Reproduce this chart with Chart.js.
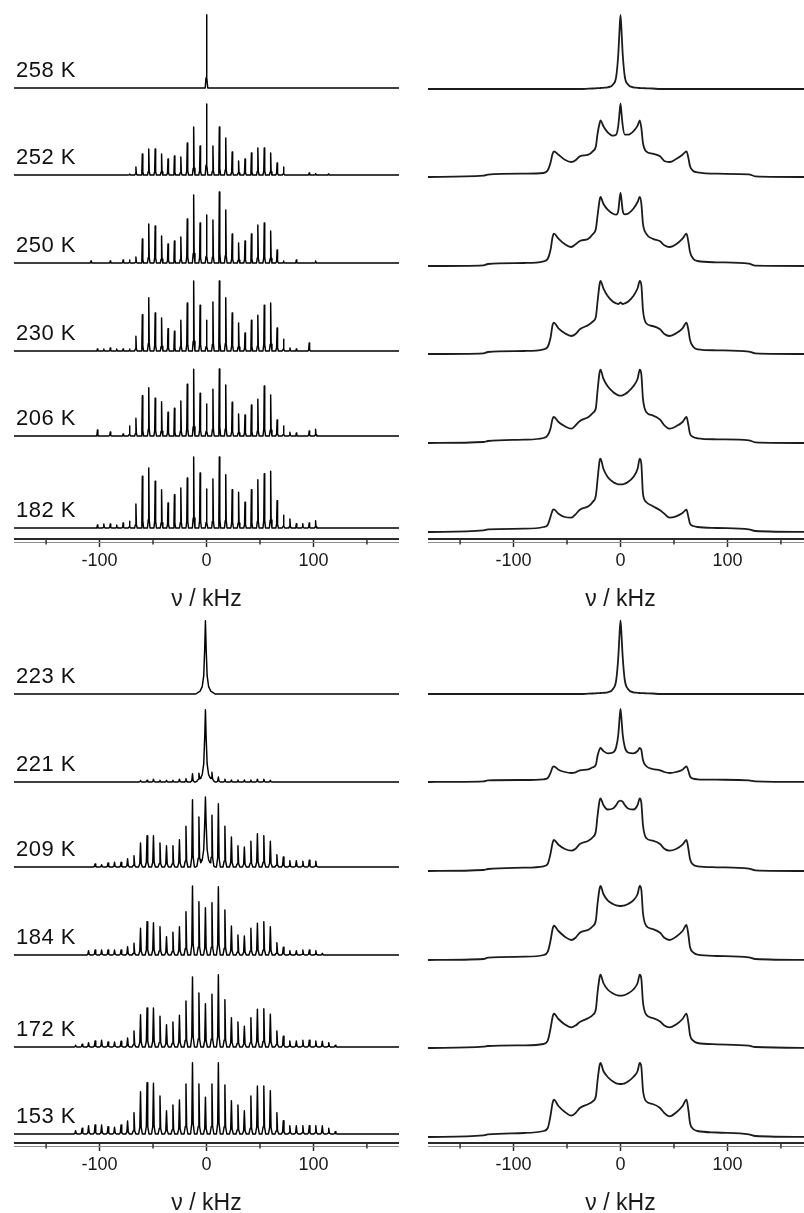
<!DOCTYPE html>
<html>
<head>
<meta charset="utf-8">
<script src="https://cdn.jsdelivr.net/npm/chart.js@4.4.1/dist/chart.umd.min.js"></script>
<style>
  html, body { margin: 0; padding: 0; background: #fff; overflow: hidden; width: 804px; height: 1213px; }
  canvas { position: absolute; }
</style>
</head>
<body>
<canvas id="topLeft"></canvas>
<canvas id="topRight"></canvas>
<canvas id="bottomLeft"></canvas>
<canvas id="bottomRight"></canvas>
<script>
// temperatures, top to bottom
const tempsTop = ['258 K', '252 K', '250 K', '230 K', '206 K', '182 K'];
const tempsBottom = ['223 K', '221 K', '209 K', '184 K', '172 K', '153 K'];

// sideband positions (kHz), orders -20..20
const sidebandsTop = [-120, -114, -108, -102, -96, -90, -84, -78, -72, -66, -60, -54, -48, -42, -36, -30, -24, -18, -12, -6,
  0, 6, 12, 18, 24, 30, 36, 42, 48, 54, 60, 66, 72, 78, 84, 90, 96, 102, 108, 114, 120];
const sidebandsBottom = [-122.4, -116.3, -110.3, -104.2, -98.1, -92.1, -86.0, -79.9, -73.8, -67.8, -61.7, -55.6, -49.6, -43.5, -37.4, -31.4, -25.3, -19.2, -13.1, -7.1,
  -1.0, 5.1, 11.1, 17.2, 23.3, 29.4, 35.4, 41.5, 47.6, 53.6, 59.7, 65.8, 71.8, 77.9, 84.0, 90.1, 96.1, 102.2, 108.3, 114.3, 120.4];

// sideband heights (left column)
const mas258 = [0,0,0,0,0,0,0,0,0,0,0,0,0,0,0,0,0,0,0,0, 73.3, 0,0,0,0,0,0,0,0,0,0,0,0,0,0,0,0,0,0,0,0];
const mas252 = [0,0,0,0,0,0,0,0, 1,8,21,26,26,21,16,19,18,32,48,29,71,29,48,37,23,14,16,22,27,27,22,12,8, 0,0,0,2,1.5,0,1,0];
const mas250 = [0,0,2,0,0,2,0,3, 3,6,24,39,37,27,19,22,26,44,68,40,48,43,71,53,29,20,22,29,38,40,32,13,2, 0,3,0,0,2,0,0,0];
const mas230 = [0,0,0,2,2,3,2,2, 2,14.7,36.3,53.3,38,33,22.3,19.7,30.7,48,70,45.7,30.7,49,70,53.3,38,28,18,30.7,35.7,45.7,48,23,11.7, 3,2,0,8,0,0,0,0];
const mas206 = [0,0,0,6,0,4,0,2, 10,17.7,40.3,48.3,37.7,34.3,23.7,27.7,35,51.7,66.7,42.7,32,46.7,67,51,33.7,22,21,31,36.7,50,41,16,10, 3.7,3,0,5,6.7,0,0,0];
const mas182 = [0,0,0,3,4,4,3,5, 6.7,24,51.7,60,46.7,38.3,25,33.3,40,50,71,55,39,49,71,53.3,38.3,35.7,25.7,38.3,48.3,54.3,56.7,27.3,12.7, 9,4.3,4.3,5,7.3,0,0,0];

const mas223 = [0,0,0,0,0,0,0,0,0,0,0,0,0,0,0,0,0,0,0,0, 73.3, 0,0,0,0,0,0,0,0,0,0,0,0,0,0,0,0,0,0,0,0];
const mas221 = [0,0,0,0,0,0,0,0,0,0, 1.5,1.7,2.7,1.7,1.7,1.7,2.7,3.3,8.3,6.7, 72.3, 7.7,5,2.7,2,2,2,2,2.7,2.7,1.7, 0,0,0,0,0,0,0,0,0,0];
const mas209 = [0,0,0,3,2.3,4,4.7,4.7,8.3,11.3,24,31.3,31.3,24,21.3,21.3,27.3,40.7,67.3,48,70,49.7,63.3,40.7,30,21.3,20,25.7,33.3,31.3,25.7,12.3,10,6.3,6.3,5.7,6.7,5.7,0,0,0];
const mas184 = [0,0,4.3,5,5,5,5,5,8.3,11.7,26.7,33.3,32.3,28.3,18.3,22.7,28.3,43.3,69,53.3,47.3,52.3,68.3,45,29,20,19,26.7,31.7,33.3,28.3,12.3,7.7,4.3,4.3,5,5,4.3,1.7,0,0];
const mas172 = [1.7,2.7,4.3,6,6.7,5,5,5.7,9,16,32.3,39,39,30.7,22.3,25,31.7,46,70,54,43.3,52.7,72.3,47.3,29.3,25,20.7,29.3,37.7,38.3,32.7,16,10.7,6,6,6.7,6.7,6,5.7,4.3,1.7];
const mas153 = [3.3,5.7,8.3,9,9,7.3,6.7,9,13,21.3,42.3,51.3,50.7,38,23.3,29,34,50,71.3,50,36.7,50,71.3,49,33.3,29,23.3,38,48,48,43.3,21.3,13.3,8.3,8.3,8.3,8.3,8.3,8.3,5.7,2.3];

// static line shapes (right column), sampled at powderX
const powderX = [-180, -128, -124, -90, -72, -68, -65.5, -63.5, -62.3, -58, -52, -46, -42, -38, -30, -26, -23, -21.5, -19.5, -18.7,
  -16, -12, -7, -4, -2, -1, 0, 1, 2, 4, 7, 12, 16,
  18, 19.5, 21, 24, 30, 37, 41, 46, 52, 58, 61.7, 63.5, 65, 68, 72, 90, 120, 126, 180];

const static258 = [0,0,0,0,0,0,0,0,0,0,0,0,0,0,0.3,0.5,0.7,0.8,0.9,1, 1.2,1.7,4.5,12.5,36,57,74,57,36,12.5,4.5,1.7,1.2, 1,0.9,0.8,0.7,0.5,0,0,0,0,0,0,0,0,0,0,0,0,0,0];
const static252 = [0,1.3,2.3,3.3,4,6.7,14,23.3,25.7,22.3,17.3,15,16.7,20.7,22.3,25.7,30.7,43,54,56.7, 50.7,44.7,41.3,42.3,52,63,73.3,63,52,42.3,42.3,45.7,51.3, 56.7,49,34,25.7,23.3,20.7,16,15,18,22.3,25.7,19,10.7,6,4.7,3.3,2.7,0.7,0];
const static250 = [0,0.7,2,3,4.7,7.3,15.7,29,32.3,27.3,21.7,19,21.7,25,27.3,31.7,37.3,50,66,69, 62.3,56.3,52.3,51.3,55.7,65.7,73,65.7,55.7,51.7,52.3,57.3,64, 69,62.3,42.3,32.3,27.3,24.7,20.7,19,21.7,27.3,32.3,24,14,7.3,5,3.7,2.3,0.3,0];
const static230 = [0,0.7,2,3,4.7,7.3,15.7,29,31.3,25.7,20.7,18,20,24.7,29,32.3,37.3,52,70,73, 65.7,58,52.3,50.7,50,50.7,51.7,50.7,50,50.7,52.3,58,65.7, 73,69,44,30.7,28,24.7,20,18,20.7,25.7,31.3,24,14,7.3,4.7,3.7,2.3,0.7,0];
const static206 = [0,1,2,3.3,5,7.7,14.3,24.3,26,21,16.7,14.3,17.7,22,26,30,35.3,52,71,73.3, 64.3,56.7,51,48.7,47.7,47.3,47.3,47.3,47.7,48.7,51,56.7,64.3, 73.3,68.7,44.3,31,27.7,23.3,17.7,14.3,16.7,21,26,17.7,9.3,6,4.7,3.7,2.7,0.7,0];
const static182 = [0,1.7,2.7,3.3,5,7.3,15,21.7,22.7,18.3,15,14.3,17.7,22.3,25.7,30,36.7,52,71.7,73.3, 63.3,55,50,48.3,47.7,47.7,47.7,47.7,47.7,48.3,50,55,63.3, 73.3,68,38.3,30,26,21.7,18.3,14.3,15.7,19,22.3,15,8.3,6,5,4,2.7,1,0];

const static223 = [0,0,0,0,0,0,0,0,0,0,0,0,0,0,0.3,0.5,0.7,0.8,0.9,1, 1.2,1.7,5,14,38,58,73.7,58,38,14,5,1.7,1.2, 1,0.9,0.8,0.7,0.5,0,0,0,0,0,0,0,0,0,0,0,0,0,0];
const static221 = [0,0.7,1.7,2,2.7,4,9,14.7,15.7,12.3,10,9,9.7,11.7,12.7,14.7,17.3,26,33,34, 31,28.7,29.5,35,48,62,73,62,48,35,29.5,28.7,31, 34,32,22,16,13,11.7,10,9,10,12.3,15.7,11,5.7,3.3,2.7,2.3,1.7,0.7,0];
const static209 = [0,1,2,3.3,4.7,7.3,17,28,31,26.3,22,20.3,22.3,27,30.3,33.7,40,55,70.7,72.7, 66,61.5,62.5,66,69.3,70,70.3,70,69.3,66,62.5,61.5,66, 72.7,68,46,33,30.3,27,22.3,20.3,22,26.3,31,22,12,6.3,4.7,3.7,2.3,0.7,0];
const static184 = [0,1,2.3,3.3,5,8.3,19,31,34.3,29,23.3,20,22.3,27.3,30.3,33.7,40,56,71.7,74, 66,59.7,56,54.7,54.3,54,54,54,54.3,54.7,56,59.7,66, 74,70,47,34.3,31,27.3,22.3,20,23.3,29,35,25,13,7.7,5.3,4,2.7,1,0];
const static172 = [0,1.3,2,2.7,4,7.5,19,31,34.3,29,23.5,20.7,22.5,26,30,33,39,55,71,73.3, 65,58.5,54.5,53,52.5,52.3,52.3,52.3,52.5,53,54.5,58.5,65, 73.3,69,46,33.5,30,26.5,22.5,20.7,23.5,29,34.3,25,13,7.3,5,3.7,2.3,1,0];
const static153 = [0,1.7,2.7,4,6,9,21,34,37.3,31,25,21.3,24,29,33,35.7,41,56,72,74, 66,60,55.5,53.7,53.2,53,53,53,53.2,53.7,55.5,60,66, 74,70,47,35.7,33,29,24,20.7,24.5,31,37.3,27,14,8,6,4.5,2.7,1,0];

const majorTicks = [-150, -100, -50, 0, 50, 100, 150];

// ---- layout (page pixels) ----
const AXIS_TOP = 539, AXIS_BOTTOM = 1143;
const baseTL = [88, 175, 263, 351, 436, 528];
const baseTR = [89, 177, 266, 354, 443, 532];
const baseBL = [694, 782, 867, 955, 1047, 1134];
const baseBR = [694, 782, 871, 960, 1048, 1137];

// peak shapes for the spinning sidebands: offsets in kHz, fraction of height
const narrowTop = { dx: [-1.2, -0.45, 0, 0.45, 1.2], f: [0, 0.14, 1, 0.14, 0] };
const narrowBottom = { dx: [-1.8, -0.65, 0, 0.65, 1.8], f: [0, 0.15, 1, 0.15, 0] };
const broadCentre = { dx: [-9, -5, -3, -1.6, -0.6, 0, 0.6, 1.6, 3, 5, 9], f: [0, 0.04, 0.1, 0.25, 0.65, 1, 0.65, 0.25, 0.1, 0.04, 0] };

function shapeAt(s, d) {
  if (d <= s.dx[0] || d >= s.dx[s.dx.length - 1]) return 0;
  for (let j = 1; j < s.dx.length; j++) {
    if (d <= s.dx[j]) {
      const t = (d - s.dx[j - 1]) / (s.dx[j] - s.dx[j - 1]);
      return s.f[j - 1] + t * (s.f[j] - s.f[j - 1]);
    }
  }
  return 0;
}

// polyline through the sideband peaks
function spikeTrace(pos, heights, shape, centre) {
  const peaks = [];
  pos.forEach((p, i) => {
    if (heights[i] > 0) peaks.push({ p, h: heights[i], s: (i === 20 && centre) ? centre : shape });
  });
  const xs = new Set([-180, 180]);
  peaks.forEach(k => k.s.dx.forEach(d => xs.add(+(k.p + d).toFixed(3))));
  return [...xs].sort((a, b) => a - b).map(x => ({
    x, y: peaks.reduce((sum, k) => sum + k.h * shapeAt(k.s, x - k.p), 0)
  }));
}

const tempLabels = {
  id: 'tempLabels',
  afterDatasetsDraw(chart, args, opts) {
    if (!opts.labels) return;
    const { ctx } = chart;
    const y = chart.scales.y;
    ctx.save();
    ctx.font = '22px "Liberation Sans", Arial, sans-serif';
    ctx.letterSpacing = '0.5px';
    ctx.fillStyle = '#111';
    ctx.textBaseline = 'alphabetic';
    opts.labels.forEach((t, i) => {
      ctx.fillText(t, chart.chartArea.left + 2, y.getPixelForValue(opts.offsets[i] + 11));
    });
    ctx.restore();
  }
};

// second thin axis line + short minor ticks
const axisDecor = {
  id: 'axisDecor',
  afterDraw(chart) {
    const { ctx, chartArea: a } = chart;
    const x = chart.scales.x;
    ctx.save();
    ctx.strokeStyle = '#8c8c8c';
    ctx.lineWidth = 1;
    ctx.beginPath();
    ctx.moveTo(a.left, a.bottom + 3.5);
    ctx.lineTo(a.right, a.bottom + 3.5);
    ctx.stroke();
    ctx.strokeStyle = '#333';
    ctx.lineWidth = 1.5;
    [-150, -50, 50, 150].forEach(v => {
      const px = x.getPixelForValue(v);
      ctx.beginPath();
      ctx.moveTo(px, a.bottom);
      ctx.lineTo(px, a.bottom + 5.5);
      ctx.stroke();
    });
    ctx.restore();
  }
};

function makePanel(id, left, top, axisY, baselines, traces, smooth, labels) {
  const canvas = document.getElementById(id);
  canvas.width = 385;
  canvas.height = axisY - top + 74;
  canvas.style.left = left + 'px';
  canvas.style.top = top + 'px';
  const offsets = baselines.map(b => axisY - b);
  const datasets = traces.map((tr, i) => ({
    data: tr.map(p => ({ x: p.x, y: p.y + offsets[i] })),
    borderColor: smooth ? '#1c1c1c' : '#000',
    borderWidth: smooth ? 1.8 : 1.45,
    borderJoinStyle: 'round',
    pointRadius: 0,
    fill: false,
    tension: 0,
    cubicInterpolationMode: smooth ? 'monotone' : 'default'
  }));
  new Chart(canvas, {
    type: 'line',
    data: { datasets },
    options: {
      responsive: false,
      animation: false,
      events: [],
      layout: { padding: 0 },
      plugins: {
        legend: { display: false },
        tooltip: { enabled: false },
        tempLabels: labels ? { labels, offsets } : {}
      },
      scales: {
        x: {
          type: 'linear',
          min: -180,
          max: 180,
          afterBuildTicks: s => { s.ticks = majorTicks.map(value => ({ value })); },
          afterFit: s => { s.height = 74; },
          border: { display: true, color: '#2a2a2a', width: 2 },
          grid: {
            drawOnChartArea: false,
            drawTicks: true,
            tickLength: 8,
            tickWidth: 1.5,
            tickColor: c => (c.tick && c.tick.value % 100 === 0) ? '#2a2a2a' : 'rgba(0,0,0,0)'
          },
          ticks: {
            autoSkip: false,
            maxRotation: 0,
            padding: 3,
            color: '#1a1a1a',
            font: { family: '"Liberation Sans", Arial, sans-serif', size: 18 },
            callback: v => (v % 100 === 0 ? String(v) : '')
          },
          title: {
            display: true,
            text: 'ν / kHz',
            color: '#1a1a1a',
            padding: 0,
            font: { family: '"Liberation Sans", Arial, sans-serif', size: 23 }
          }
        },
        y: { display: false, min: 0, max: axisY - top }
      }
    },
    plugins: [tempLabels, axisDecor]
  });
}

const topLeftTraces = [
  spikeTrace(sidebandsTop, mas258, narrowTop),
  spikeTrace(sidebandsTop, mas252, narrowTop),
  spikeTrace(sidebandsTop, mas250, narrowTop),
  spikeTrace(sidebandsTop, mas230, narrowTop),
  spikeTrace(sidebandsTop, mas206, narrowTop),
  spikeTrace(sidebandsTop, mas182, narrowTop)
];
const bottomLeftTraces = [
  spikeTrace(sidebandsBottom, mas223, narrowBottom, broadCentre),
  spikeTrace(sidebandsBottom, mas221, narrowBottom, broadCentre),
  spikeTrace(sidebandsBottom, mas209, narrowBottom, broadCentre),
  spikeTrace(sidebandsBottom, mas184, narrowBottom),
  spikeTrace(sidebandsBottom, mas172, narrowBottom),
  spikeTrace(sidebandsBottom, mas153, narrowBottom)
];
const toPoints = vals => powderX.map((x, i) => ({ x, y: vals[i] }));
const topRightTraces = [static258, static252, static250, static230, static206, static182].map(toPoints);
const bottomRightTraces = [static223, static221, static209, static184, static172, static153].map(toPoints);

makePanel('topLeft', 14, 0, AXIS_TOP, baseTL, topLeftTraces, false, tempsTop);
makePanel('topRight', 428, 0, AXIS_TOP, baseTR, topRightTraces, true, null);
makePanel('bottomLeft', 14, 613, AXIS_BOTTOM, baseBL, bottomLeftTraces, false, tempsBottom);
makePanel('bottomRight', 428, 613, AXIS_BOTTOM, baseBR, bottomRightTraces, true, null);
</script>
</body>
</html>
